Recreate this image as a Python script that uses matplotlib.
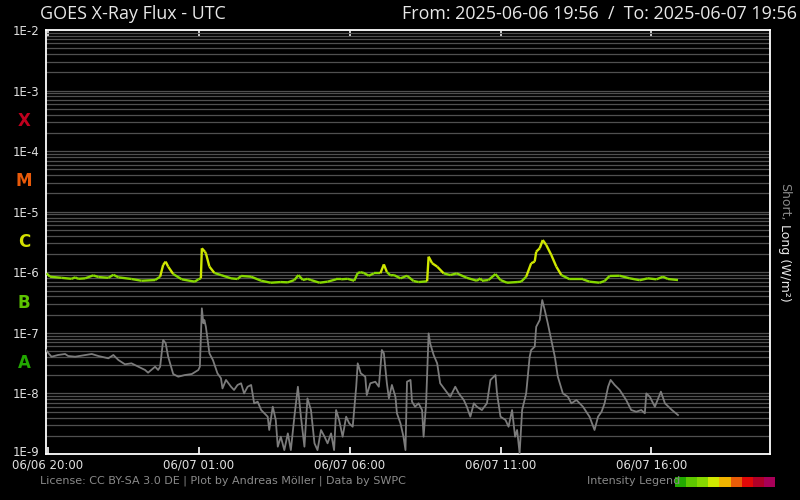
import matplotlib
matplotlib.use("Agg")
import matplotlib.pyplot as plt
import matplotlib.dates as mdates
import matplotlib.transforms as mtransforms
from matplotlib.collections import LineCollection
from matplotlib.patches import Rectangle
import numpy as np
import pandas as pd

# window start and end (UTC)
start = pd.Timestamp("2025-06-06 19:56")
end = pd.Timestamp("2025-06-07 19:56")

# long channel (1-8 A), minutes after start / flux in W/m2
long_min = [1, 8, 31, 51, 58, 64, 78, 94, 104, 124, 134, 144, 170, 190, 217, 227,
            233, 238, 243, 253, 270, 296, 303, 308, 310, 316, 318, 325, 335, 348,
            368, 381, 388, 408, 428, 447, 467, 481, 494, 502, 511, 520, 527, 544,
            560, 577, 587, 600, 613, 620, 626, 632, 642, 652, 665, 672, 678, 685,
            692, 705, 718, 731, 741, 758, 761, 768, 778, 791, 804, 817, 837, 857,
            864, 867, 880, 894, 904, 917, 937, 945, 955, 965, 972, 975, 982, 988,
            995, 1005, 1015, 1025, 1042, 1068, 1081, 1101, 1111, 1121, 1141, 1161,
            1181, 1197, 1214, 1227, 1237, 1257]
long_flux = [9.6e-7, 8.45e-7, 8.1e-7, 7.8e-7, 8.25e-7, 7.8e-7, 7.95e-7, 8.9e-7,
             8.35e-7, 8.1e-7, 9.1e-7, 8.25e-7, 7.75e-7, 7.25e-7, 7.45e-7, 8.45e-7,
             1.32e-6, 1.50e-6, 1.24e-6, 9.35e-7, 7.65e-7, 7.0e-7, 7.65e-7, 7.95e-7,
             2.49e-6, 2.19e-6, 2.06e-6, 1.24e-6, 9.75e-7, 9.0e-7, 7.95e-7, 7.75e-7,
             8.7e-7, 8.45e-7, 7.25e-7, 6.73e-7, 6.9e-7, 6.82e-7, 7.45e-7, 9.0e-7,
             7.45e-7, 7.8e-7, 7.45e-7, 6.73e-7, 7.0e-7, 7.65e-7, 7.65e-7, 7.8e-7,
             7.25e-7, 9.75e-7, 1.0e-6, 9.75e-7, 8.77e-7, 9.6e-7, 9.6e-7, 1.35e-6,
             1.01e-6, 8.9e-7, 9.0e-7, 7.95e-7, 8.77e-7, 7.18e-7, 6.9e-7, 7.1e-7,
             1.81e-6, 1.41e-6, 1.24e-6, 9.6e-7, 9.0e-7, 9.6e-7, 8.1e-7, 7.25e-7,
             7.95e-7, 7.25e-7, 7.45e-7, 9.35e-7, 7.45e-7, 6.73e-7, 6.9e-7, 7.0e-7,
             8.45e-7, 1.41e-6, 1.50e-6, 2.19e-6, 2.49e-6, 3.41e-6, 2.82e-6, 1.93e-6,
             1.24e-6, 9.0e-7, 7.65e-7, 7.65e-7, 7.0e-7, 6.73e-7, 7.18e-7, 8.7e-7,
             8.77e-7, 7.95e-7, 7.4e-7, 7.95e-7, 7.65e-7, 8.45e-7, 7.75e-7, 7.45e-7]

# short channel (0.5-4 A)
short_min = [0, 5, 11, 24, 38, 44, 58, 78, 91, 104, 124, 134, 144, 157, 170, 184,
             197, 203, 217, 223, 227, 233, 238, 243, 253, 263, 276, 290, 303, 306,
             310, 313, 315, 318, 325, 332, 341, 348, 351, 358, 368, 374, 381, 388,
             394, 401, 408, 414, 421, 428, 441, 444, 451, 457, 461, 467, 474, 481,
             487, 494, 501, 507, 514, 520, 527, 534, 540, 547, 554, 560, 567, 573,
             577, 583, 590, 597, 603, 610, 613, 617, 620, 626, 635, 638, 645, 655,
             662, 668, 672, 678, 682, 688, 695, 698, 705, 711, 715, 718, 725, 728,
             734, 741, 748, 751, 756, 761, 764, 771, 778, 784, 794, 804, 814, 821,
             831, 837, 844, 851, 857, 867, 877, 884, 894, 897, 904, 914, 920, 927,
             933, 937, 942, 947, 955, 962, 965, 972, 975, 982, 987, 992, 998, 1005,
             1012, 1018, 1028, 1038, 1045, 1055, 1068, 1081, 1091, 1098, 1105, 1111,
             1118, 1123, 1131, 1141, 1154, 1164, 1174, 1184, 1191, 1194, 1201, 1211,
             1223, 1231, 1245, 1257]
short_flux = [5.21e-8, 4.59e-8, 4.04e-8, 4.31e-8, 4.48e-8, 4.15e-8, 4.04e-8, 4.31e-8,
              4.48e-8, 4.15e-8, 3.80e-8, 4.31e-8, 3.56e-8, 3.03e-8, 3.14e-8, 2.76e-8,
              2.44e-8, 2.20e-8, 2.76e-8, 2.44e-8, 2.76e-8, 7.62e-8, 6.72e-8, 4.04e-8,
              2.09e-8, 1.89e-8, 2.01e-8, 2.09e-8, 2.44e-8, 2.76e-8, 2.54e-7, 1.44e-7,
              1.63e-7, 1.26e-7, 4.59e-8, 3.56e-8, 2.15e-8, 1.78e-8, 1.21e-8, 1.67e-8,
              1.29e-8, 1.14e-8, 1.38e-8, 1.47e-8, 1.00e-8, 1.29e-8, 1.38e-8, 6.87e-9,
              7.3e-9, 5.32e-9, 4.13e-9, 2.49e-9, 6.04e-9, 3.64e-9, 1.32e-9, 1.93e-9,
              1.16e-9, 2.19e-9, 1.16e-9, 4.13e-9, 1.29e-8, 4.13e-9, 1.32e-9, 8.3e-9,
              5.32e-9, 1.50e-9, 1.16e-9, 2.49e-9, 1.93e-9, 1.50e-9, 2.19e-9, 1.16e-9,
              5.32e-9, 3.64e-9, 1.93e-9, 4.13e-9, 3.21e-9, 2.82e-9, 5.32e-9, 1.29e-8,
              3.14e-8, 2.15e-8, 1.89e-8, 9.4e-9, 1.47e-8, 1.56e-8, 1.29e-8, 5.21e-8,
              4.59e-8, 1.47e-8, 8.3e-9, 1.38e-8, 8.8e-9, 4.70e-9, 3.21e-9, 1.93e-9,
              1.16e-9, 1.56e-8, 1.67e-8, 7.3e-9, 6.04e-9, 6.87e-9, 5.32e-9, 1.93e-9,
              6.87e-9, 9.8e-8, 6.72e-8, 4.31e-8, 3.14e-8, 1.47e-8, 1.14e-8, 8.8e-9,
              1.29e-8, 1.00e-8, 7.78e-9, 6.04e-9, 4.13e-9, 6.87e-9, 6.04e-9, 5.32e-9,
              6.87e-9, 1.67e-8, 2.01e-8, 1.00e-8, 4.13e-9, 3.64e-9, 2.82e-9, 5.32e-9,
              1.93e-9, 2.49e-9, 1.03e-9, 5.32e-9, 1.00e-8, 4.04e-8, 5.21e-8, 5.9e-8,
              1.26e-7, 1.63e-7, 3.48e-7, 2.38e-7, 1.44e-7, 7.62e-8, 4.04e-8, 1.89e-8,
              1.00e-8, 8.8e-9, 6.87e-9, 7.78e-9, 6.04e-9, 4.13e-9, 2.49e-9, 4.13e-9,
              4.99e-9, 6.87e-9, 1.29e-8, 1.67e-8, 1.38e-8, 1.14e-8, 7.78e-9, 5.32e-9,
              4.99e-9, 5.32e-9, 4.70e-9, 1.00e-8, 8.8e-9, 6.04e-9, 1.07e-8, 6.87e-9,
              5.32e-9, 4.40e-9]

decade_ticks = [1e-9, 1e-8, 1e-7, 1e-6, 1e-5, 1e-4, 1e-3, 1e-2]
decade_labels = ["1E-9", "1E-8", "1E-7", "1E-6", "1E-5", "1E-4", "1E-3", "1E-2"]
class_names = ["A", "B", "C", "M", "X"]
class_mid = [10**-7.5, 10**-6.5, 10**-5.5, 10**-4.5, 10**-3.5]
class_colors = ["#22a800", "#5cc400", "#d4e000", "#e85a0a", "#c0001e"]
legend_colors = ["#22aa00", "#5ec800", "#86d800", "#d0e800", "#f0b400",
                 "#e85c08", "#e00808", "#b00028", "#a80058"]
hour_ticks = [20, 1, 6, 11, 16]


def main():
    fig = plt.figure(figsize=(8, 5), dpi=100, facecolor="black")
    ax = fig.add_axes([46 / 800, 46 / 500, 724 / 800, 424 / 500], facecolor="black")

    ax.set_yscale("log")
    ax.set_ylim(1e-9, 1e-2)
    ax.set_xlim(mdates.date2num(start), mdates.date2num(end))

    # grid
    ax.yaxis.set_minor_locator(matplotlib.ticker.LogLocator(base=10, subs=np.arange(2, 10)))
    ax.yaxis.set_minor_formatter(matplotlib.ticker.NullFormatter())
    ax.grid(True, which="both", axis="y", color="#505050", lw=0.9)
    ax.set_axisbelow(True)

    ax.set_yticks(decade_ticks)
    ax.set_yticklabels(decade_labels)
    ax.tick_params(axis="y", which="both", length=0, colors="#e0e0e0", labelsize=8.5, pad=5)
    # lift the bottom label a little so it clears the date labels
    lab0 = ax.get_yticklabels()[0]
    lab0.set_transform(lab0.get_transform() +
                       mtransforms.ScaledTranslation(0, 3 / 100, fig.dpi_scale_trans))

    ax.xaxis.set_major_locator(mdates.HourLocator(byhour=hour_ticks))
    ax.xaxis.set_major_formatter(mdates.DateFormatter("%m/%d %H:%M"))
    ax.tick_params(axis="x", direction="in", length=5, width=1.2, colors="white",
                   labelcolor="#e0e0e0", labelsize=8.5, top=True, pad=3.5)

    for sp in ax.spines.values():
        sp.set_color("white")
        sp.set_linewidth(1.3)

    # short channel
    st = mdates.date2num(start + pd.to_timedelta(short_min, unit="min"))
    ax.plot(st, short_flux, color="#7c7c7c", lw=1.3, zorder=3)

    # long channel coloured by flare class
    lt = mdates.date2num(start + pd.to_timedelta(long_min, unit="min"))
    pts = np.column_stack([lt, long_flux])
    segs = np.stack([pts[:-1], pts[1:]], axis=1)
    mid = np.sqrt(np.array(long_flux[:-1]) * np.array(long_flux[1:]))
    cols = [legend_colors[3] if m >= 1e-6 else legend_colors[2] for m in mid]
    lc = LineCollection(segs, colors=cols, linewidths=1.7, zorder=4)
    ax.add_collection(lc)

    # flare class letters
    trans = mtransforms.blended_transform_factory(ax.transAxes, ax.transData)
    for name, y, c in zip(class_names, class_mid, class_colors):
        ax.text(-0.0305, y, name, transform=trans, color=c, fontsize=12,
                fontweight="bold", ha="center", va="center", family="DejaVu Sans")

    # titles
    fig.text(40 / 800, 1 - 14 / 500, "GOES X-Ray Flux - UTC", color="#e8e8e8",
             fontsize=12.9, ha="left", va="center", family="Open Sans")
    fig.text(797 / 800, 1 - 14 / 500, "From: 2025-06-06 19:56  /  To: 2025-06-07 19:56",
             color="#e8e8e8", fontsize=12.9, ha="right", va="center", family="Open Sans")

    # right axis label
    fig.text(785 / 800, 1 - 183 / 500, "Short,", color="#8a8a8a", fontsize=9,
             rotation=270, ha="center", va="top")
    fig.text(785 / 800, 1 - 224 / 500, "Long (W/m²)", color="#e8e8e8", fontsize=9,
             rotation=270, ha="center", va="top")

    # footer
    fig.text(40 / 800, 1 - 481 / 500,
             "License: CC BY-SA 3.0 DE | Plot by Andreas Möller | Data by SWPC",
             color="#8a8a8a", fontsize=8, ha="left", va="center")
    fig.text(587 / 800, 1 - 481 / 500, "Intensity Legend", color="#8a8a8a",
             fontsize=8, ha="left", va="center")
    bw = 100 / 9
    for i, c in enumerate(legend_colors):
        fig.patches.append(Rectangle(((675 + i * bw) / 800, 1 - 487 / 500), bw / 800,
                                     10 / 500, transform=fig.transFigure,
                                     facecolor=c, edgecolor="none"))

    fig.savefig("out.png", dpi=100, facecolor="black")


if __name__ == "__main__":
    main()
